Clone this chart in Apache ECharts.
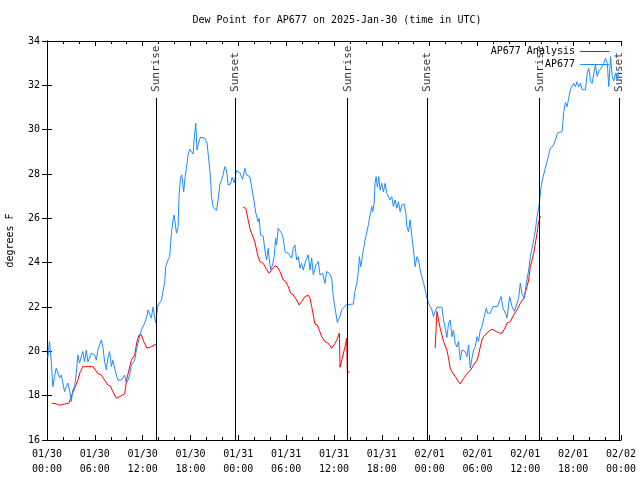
<!DOCTYPE html>
<html>
<head>
<meta charset="utf-8">
<script src="https://cdn.jsdelivr.net/npm/echarts@6/dist/echarts.min.js"></script>
<style>html,body{margin:0;padding:0;background:#fff;}#c{width:640px;height:480px;}</style>
</head>
<body>
<div id="c"></div>
<script>
// hours since 2025-01-30 00:00 UTC
var xTickLabels = ['01/30\n00:00','01/30\n06:00','01/30\n12:00','01/30\n18:00','01/31\n00:00','01/31\n06:00','01/31\n12:00','01/31\n18:00','02/01\n00:00','02/01\n06:00','02/01\n12:00','02/01\n18:00','02/02\n00:00'];
var yTicks = [16,18,20,22,24,26,28,30,32,34];
var sunriseHours = [13.68, 37.72, 61.80];
var sunsetHours = [23.58, 47.66, 71.78];

var blueHours = [0.10,0.31,0.53,0.73,0.94,1.16,1.36,1.57,1.78,1.99,2.20,2.41,2.61,2.83,3.04,3.24,3.46,3.67,3.87,4.08,4.30,4.50,4.71,4.93,5.13,5.34,5.55,5.76,5.97,6.18,6.38,6.60,6.81,7.01,7.23,7.44,7.64,7.85,8.07,8.27,8.48,8.70,8.90,9.11,9.32,9.53,9.74,9.95,10.15,10.37,10.58,10.78,11.00,11.21,11.41,11.62,11.84,12.04,12.25,12.47,12.67,12.88,13.09,13.30,13.51,13.63,13.92,14.14,14.35,14.55,14.77,14.89,15.18,15.39,15.61,15.81,15.94,16.24,16.44,16.56,16.74,16.90,17.15,17.32,17.49,17.69,17.91,18.12,18.32,18.45,18.66,18.82,19.00,19.25,19.79,20.08,20.29,20.51,20.63,20.83,21.05,21.26,21.46,21.68,21.89,22.09,22.30,22.52,22.72,23.02,23.22,23.47,23.77,24.19,24.53,24.82,25.03,25.45,25.66,25.95,26.20,26.49,26.61,26.79,27.12,27.33,27.54,27.75,27.87,28.05,28.30,28.50,28.68,28.80,29.00,29.22,29.43,29.63,29.85,30.26,30.69,30.89,31.10,31.31,31.52,31.73,31.94,32.14,32.48,32.77,32.99,33.20,33.40,33.74,34.03,34.24,34.58,34.87,35.08,35.41,35.71,35.91,36.13,36.42,36.76,36.97,37.17,37.51,38.01,38.43,38.64,38.85,39.06,39.18,39.36,39.52,39.68,39.90,40.11,40.31,40.53,40.74,40.86,41.03,41.15,41.28,41.44,41.62,41.78,41.99,42.20,42.41,42.62,42.83,43.04,43.25,43.45,43.67,43.88,44.08,44.30,44.51,44.80,45.01,45.14,45.34,45.55,45.77,45.97,46.18,46.40,46.60,46.81,47.02,47.22,47.44,47.65,47.85,48.07,48.28,48.48,48.69,48.91,49.54,49.74,49.95,50.16,50.37,50.58,50.79,50.99,51.21,51.42,51.62,51.84,52.05,52.46,52.68,52.88,53.09,53.31,53.51,53.72,53.93,54.13,54.35,54.56,54.85,55.10,55.27,55.60,55.94,56.52,56.77,56.95,57.20,57.49,57.70,58.03,58.33,58.62,58.87,59.16,59.37,59.59,59.88,60.13,60.42,60.63,60.97,61.26,61.47,61.76,61.97,62.23,62.51,62.73,62.93,63.14,63.48,63.77,64.06,64.61,64.82,65.03,65.24,65.44,65.66,65.87,66.07,66.29,66.50,66.70,66.91,67.13,67.54,67.76,67.96,68.17,68.38,68.59,68.80,69.01,69.21,69.43,69.64,69.84,70.06,70.27,70.47,70.69,70.90,71.10,71.32,71.53,71.73];
var blueTemps = [19.7,20.44,19.6,18.4,18.86,19.25,19.25,18.8,18.93,18.57,18.18,18.4,18.57,18.26,17.73,18.26,18.4,19.0,19.84,19.47,19.76,19.99,19.53,20.06,19.53,19.7,19.92,19.99,19.84,19.6,20.06,19.99,20.51,20.2,19.53,19.16,19.7,19.99,19.31,19.6,19.25,18.93,18.7,18.63,18.7,18.63,18.93,18.57,18.7,18.93,19.38,19.38,19.6,20.06,20.36,20.66,20.96,20.9,21.28,21.5,21.87,21.8,21.5,22.0,21.95,21.28,22.09,22.2,22.3,22.7,23.14,23.82,24.12,24.27,25.33,25.93,26.15,25.33,25.62,26.98,27.8,27.96,27.2,27.88,28.26,28.86,29.11,29.08,28.9,29.53,30.29,29.08,29.39,29.66,29.61,29.39,28.63,27.88,26.98,26.53,26.45,26.35,26.83,27.5,27.73,27.96,28.33,28.18,27.5,27.55,27.85,27.6,28.15,28.06,27.76,28.26,27.96,27.88,27.43,26.83,26.23,25.85,26.0,25.25,25.2,24.57,24.12,24.65,24.2,23.67,23.9,24.27,25.1,24.8,25.55,25.62,25.33,25.1,24.5,24.42,24.2,24.65,24.8,24.12,24.27,23.75,23.97,23.67,24.12,24.35,23.67,24.2,23.45,23.9,24.05,23.45,23.52,23.07,23.6,23.52,23.3,22.47,21.95,21.3,21.6,21.87,21.95,22.09,22.12,22.13,22.75,23.07,23.6,24.27,23.82,24.2,24.57,25.02,25.1,25.7,26.15,26.53,26.3,26.68,27.58,27.88,27.4,27.88,27.28,27.58,27.2,27.58,27.13,27.13,26.83,26.98,26.53,26.83,26.45,26.75,26.3,26.6,26.65,26.23,25.62,25.4,25.93,25.17,24.57,23.82,24.27,24.12,23.67,23.37,23.1,22.77,22.4,22.2,22.02,21.87,21.57,21.8,21.99,21.99,21.42,21.04,20.62,21.27,21.42,20.66,20.96,20.36,20.2,20.44,19.6,20.06,19.99,19.76,20.29,19.24,19.69,20.06,20.2,20.66,20.44,20.96,21.11,21.57,21.95,21.72,21.72,22.02,22.02,22.09,22.47,21.95,21.72,21.5,22.47,22.02,21.8,21.87,22.39,23.07,22.6,22.39,23.07,23.67,24.27,24.87,25.47,26.08,26.68,27.43,27.88,28.26,28.56,28.86,29.16,29.27,29.53,29.86,29.91,30.81,31.22,31.04,31.42,31.82,31.8,32.09,31.94,32.16,31.94,32.09,31.8,31.8,32.54,32.77,32.2,32.09,32.54,32.92,32.4,32.62,32.54,32.84,33.0,33.22,33.0,31.94,33.3,32.4,32.2,32.54,32.2,32.62];

// null = gap in analysis
var redHours = [0.60,1.16,1.57,2.20,2.74,3.04,3.46,3.87,4.17,4.50,5.76,6.38,6.81,7.23,7.64,7.94,8.27,8.70,9.11,9.74,10.03,10.58,11.00,11.28,11.54,11.84,12.13,12.54,13.09,13.72,14.0,24.60,24.94,25.23,25.45,25.66,25.86,26.07,26.29,26.49,26.70,27.12,27.46,27.87,28.17,28.59,28.88,29.22,29.63,29.97,30.26,30.56,30.89,31.31,31.64,31.94,32.36,32.77,32.99,33.20,33.40,33.61,33.90,34.15,34.46,34.87,35.29,35.71,36.13,36.34,36.67,36.76,36.97,37.38,37.59,37.67,37.92,38.2,48.69,48.91,49.11,49.32,49.54,49.74,49.95,50.16,50.37,50.58,50.79,51.21,51.62,51.84,52.26,52.68,53.09,53.51,53.93,54.13,54.35,54.56,54.76,55.19,55.60,55.94,56.36,56.77,57.07,57.36,57.70,58.11,58.53,58.96,59.37,59.79,60.21,60.42,60.63,61.05,61.47,61.67,61.89];
var redTemps = [17.66,17.63,17.57,17.62,17.66,17.96,18.33,18.7,19.08,19.31,19.31,19.0,18.93,18.7,18.48,18.43,18.18,17.88,17.96,18.08,18.78,19.6,19.84,20.44,20.74,20.74,20.44,20.14,20.21,20.33,null,26.5,26.45,25.93,25.55,25.33,25.3,24.95,24.57,24.27,24.05,23.97,23.75,23.52,23.67,23.85,23.82,23.6,23.22,23.14,22.92,22.62,22.54,22.32,22.09,22.24,22.47,22.53,22.39,22.02,21.64,21.23,21.19,20.96,20.66,20.44,20.36,20.14,20.36,20.5,20.82,19.28,19.23,20.2,20.59,19.08,19.05,null,20.14,21.8,21.42,21.04,20.74,20.44,20.44,20.06,19.69,19.24,19.08,18.86,18.63,18.53,18.78,19.0,19.13,19.38,19.6,19.84,20.2,20.51,20.66,20.82,20.96,20.99,20.89,20.82,20.82,20.99,21.27,21.34,21.64,21.87,22.17,22.39,22.92,23.22,23.82,24.42,25.33,25.85,26.1];

function pairs(hs, vs) {
  return hs.map(function (h, i) { return [h, vs[i] === null ? '-' : vs[i]]; });
}

var FONT = 'DejaVu Sans Mono';
var labelValue = 31.70, lineTop = 31.43;
var events = [];
sunriseHours.forEach(function (h) { events.push({ value: [h, labelValue], name: 'Sunrise' }); });
sunsetHours.forEach(function (h) { events.push({ value: [h, labelValue], name: 'Sunset' }); });
var eventLines = events.map(function (e) {
  return [{ coord: [e.value[0], lineTop] }, { coord: [e.value[0], 16] }];
});

var chart = echarts.init(document.getElementById('c'), null, { renderer: 'canvas' });
var xBase = {
  type: 'value', min: 0, max: 72, interval: 6,
  axisLine: { show: true, lineStyle: { color: '#000', width: 1 } },
  axisTick: { show: true, inside: true, length: 5, lineStyle: { color: '#000' } },
  minorTick: { show: true, splitNumber: 3, length: 3, lineStyle: { color: '#000' } },
  splitLine: { show: false }, minorSplitLine: { show: false }
};
var yBase = {
  type: 'value', min: 16, max: 34, interval: 2,
  axisLine: { show: true, lineStyle: { color: '#000', width: 1 } },
  axisTick: { show: true, inside: true, length: 5, lineStyle: { color: '#000' } },
  splitLine: { show: false }
};
chart.setOption({
  animation: false,
  backgroundColor: '#fff',
  textStyle: { fontFamily: FONT },
  title: {
    text: 'Dew Point for AP677 on 2025-Jan-30 (time in UTC)',
    left: 332, top: 10, textAlign: 'center',
    textStyle: { fontFamily: FONT, fontSize: 10, fontWeight: 'normal', color: '#000' }
  },
  legend: {
    data: [
      { name: 'AP677 Analysis', icon: 'rect', itemStyle: { color: '#ff0000' } },
      { name: 'AP677', icon: 'rect', itemStyle: { color: '#1e8cff' } }
    ],
    orient: 'vertical', right: 31, top: 45, align: 'right',
    itemWidth: 29, itemHeight: 1, itemGap: 0, padding: 0,
    textStyle: { fontFamily: FONT, fontSize: 10, color: '#000', lineHeight: 13 }
  },
  grid: { left: 47, right: 19, top: 41, bottom: 40, containLabel: false, outerBoundsMode: 'none' },
  xAxis: [
    Object.assign({}, xBase, {
      position: 'bottom',
      axisLabel: {
        show: true, margin: 7, fontFamily: FONT, fontSize: 10, color: '#000', lineHeight: 15,
        formatter: function (v) { return xTickLabels[Math.round(v / 6)]; }
      }
    }),
    Object.assign({}, xBase, { position: 'top', axisLabel: { show: false } })
  ],
  yAxis: [
    Object.assign({}, yBase, {
      position: 'left',
      name: 'degrees F', nameLocation: 'middle', nameGap: 32, nameRotate: 90,
      nameTextStyle: { fontFamily: FONT, fontSize: 10, color: '#000' },
      axisLabel: {
        show: true, margin: 7, fontFamily: FONT, fontSize: 10, color: '#000',
        formatter: function (v) { return yTicks.indexOf(v) >= 0 ? String(v) : ''; }
      }
    }),
    Object.assign({}, yBase, { position: 'right', axisLabel: { show: false } })
  ],
  series: [
    {
      name: 'AP677 Analysis', type: 'line', xAxisIndex: 0, yAxisIndex: 0,
      data: pairs(redHours, redTemps), symbol: 'none', showSymbol: false,
      connectNulls: false,
      lineStyle: { color: '#ff0000', width: 1 }, itemStyle: { color: '#ff0000' }
    },
    {
      name: 'AP677', type: 'line', xAxisIndex: 0, yAxisIndex: 0,
      data: pairs(blueHours, blueTemps), symbol: 'none', showSymbol: false,
      lineStyle: { color: '#1e8cff', width: 1 }, itemStyle: { color: '#1e8cff' }
    },
    {
      name: 'events', type: 'scatter', xAxisIndex: 0, yAxisIndex: 0,
      data: events, symbolSize: 1, itemStyle: { color: 'rgba(0,0,0,0)' },
      silent: true, z: 1,
      label: {
        show: true, position: 'inside', rotate: 90, align: 'left', verticalAlign: 'middle',
        fontFamily: FONT, fontSize: 11, color: '#000',
        formatter: function (p) { return p.name; }
      },
      markLine: {
        silent: true, symbol: ['none', 'none'], animation: false,
        label: { show: false },
        lineStyle: { color: '#000', width: 1, type: 'solid' },
        data: eventLines
      }
    }
  ]
});
</script>
</body>
</html>
